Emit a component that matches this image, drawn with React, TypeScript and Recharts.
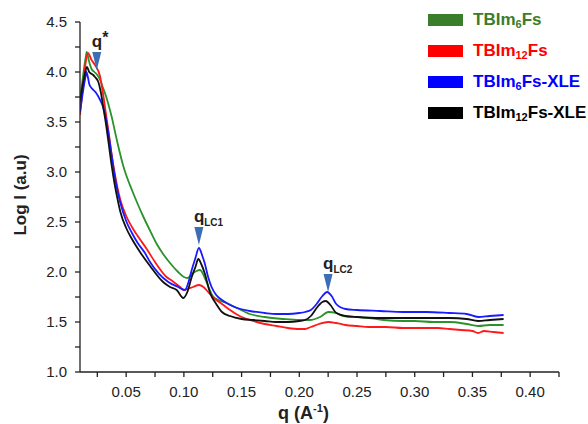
import React from "react";
import { LineChart, Line, XAxis, YAxis, ReferenceDot } from "recharts";

// TBIm6Fs (green)
const Q_GREEN = [0.01, 0.0125, 0.015, 0.0158, 0.018, 0.02, 0.0225, 0.025, 0.0275, 0.03, 0.0325, 0.035, 0.0375, 0.04, 0.0425, 0.045, 0.0475, 0.05, 0.055, 0.06, 0.065, 0.07, 0.0765, 0.082, 0.088, 0.095, 0.1, 0.103, 0.107, 0.111, 0.114, 0.117, 0.12, 0.125, 0.13, 0.137, 0.146, 0.157, 0.17, 0.186, 0.2, 0.209, 0.218, 0.225, 0.232, 0.238, 0.25, 0.26, 0.273, 0.29, 0.3, 0.316, 0.33, 0.345, 0.355, 0.365, 0.377];
const V_GREEN = [3.72, 3.95, 4.15, 4.2, 4.1, 4.03, 4.0, 3.97, 3.92, 3.84, 3.76, 3.66, 3.55, 3.42, 3.29, 3.17, 3.06, 2.97, 2.82, 2.68, 2.55, 2.43, 2.28, 2.18, 2.09, 2.0, 1.95, 1.94, 1.98, 2.01, 2.02, 1.97, 1.89, 1.76, 1.72, 1.69, 1.64, 1.58, 1.55, 1.53, 1.52, 1.52, 1.55, 1.6, 1.59, 1.56, 1.55, 1.54, 1.52, 1.51, 1.51, 1.5, 1.5, 1.48, 1.46, 1.47, 1.47];

// TBIm12Fs (red)
const Q_RED = [0.01, 0.0125, 0.015, 0.0169, 0.02, 0.023, 0.0273, 0.03, 0.0325, 0.035, 0.0375, 0.04, 0.0425, 0.045, 0.05, 0.055, 0.06, 0.0678, 0.075, 0.085, 0.09, 0.0967, 0.0995, 0.103, 0.108, 0.113, 0.117, 0.121, 0.125, 0.128, 0.133, 0.14, 0.15, 0.16, 0.17, 0.18, 0.19, 0.2, 0.205, 0.21, 0.217, 0.225, 0.232, 0.24, 0.25, 0.26, 0.275, 0.29, 0.3, 0.32, 0.33, 0.34, 0.35, 0.355, 0.36, 0.368, 0.377];
const V_RED = [3.57, 3.85, 4.1, 4.19, 4.12, 4.07, 3.96, 3.78, 3.58, 3.38, 3.17, 2.99, 2.84, 2.72, 2.56, 2.45, 2.36, 2.23, 2.1, 1.95, 1.91, 1.85, 1.82, 1.83, 1.85, 1.87, 1.85, 1.8, 1.75, 1.72, 1.68, 1.62, 1.55, 1.51, 1.48, 1.46, 1.44, 1.43, 1.43, 1.45, 1.48, 1.5, 1.49, 1.47, 1.46, 1.45, 1.45, 1.44, 1.44, 1.44, 1.43, 1.42, 1.41, 1.39, 1.41, 1.4, 1.39];

// TBIm6Fs-XLE (blue)
const Q_BLUE = [0.01, 0.0125, 0.015, 0.0155, 0.017, 0.018, 0.02, 0.0225, 0.024, 0.027, 0.03, 0.0325, 0.035, 0.0375, 0.04, 0.0425, 0.045, 0.05, 0.055, 0.06, 0.0663, 0.0707, 0.0865, 0.095, 0.101, 0.104, 0.1068, 0.11, 0.113, 0.116, 0.118, 0.121, 0.124, 0.128, 0.133, 0.14, 0.146, 0.157, 0.17, 0.18, 0.19, 0.2, 0.205, 0.21, 0.215, 0.22, 0.224, 0.228, 0.232, 0.24, 0.25, 0.27, 0.29, 0.31, 0.33, 0.345, 0.355, 0.365, 0.377];
const V_BLUE = [3.6, 3.8, 3.97, 4.0, 3.94, 3.88, 3.84, 3.81, 3.79, 3.73, 3.65, 3.53, 3.36, 3.16, 2.97, 2.81, 2.69, 2.51, 2.39, 2.29, 2.19, 2.1, 1.9, 1.85, 1.82, 1.9, 2.02, 2.14, 2.24, 2.16, 2.09, 1.95, 1.85, 1.77, 1.72, 1.67, 1.64, 1.61, 1.59, 1.58, 1.58, 1.59, 1.6, 1.62, 1.68, 1.76, 1.8, 1.76, 1.68, 1.63, 1.62, 1.61, 1.6, 1.6, 1.59, 1.58, 1.55, 1.56, 1.57];

// TBIm12Fs-XLE (black)
const Q_BLACK = [0.01, 0.0125, 0.015, 0.016, 0.018, 0.0215, 0.023, 0.0259, 0.028, 0.03, 0.0325, 0.035, 0.0375, 0.04, 0.0425, 0.045, 0.05, 0.055, 0.062, 0.0707, 0.082, 0.088, 0.0938, 0.0995, 0.103, 0.1068, 0.11, 0.1125, 0.115, 0.118, 0.1227, 0.128, 0.133, 0.14, 0.15, 0.16, 0.17, 0.18, 0.19, 0.2, 0.205, 0.21, 0.215, 0.22, 0.223, 0.227, 0.232, 0.24, 0.25, 0.27, 0.29, 0.31, 0.33, 0.345, 0.355, 0.365, 0.377];
const V_BLACK = [3.7, 3.88, 4.02, 4.05, 4.0, 3.97, 3.95, 3.9, 3.8, 3.66, 3.48, 3.27, 3.06, 2.88, 2.73, 2.6, 2.44, 2.33, 2.2, 2.06, 1.9, 1.85, 1.82, 1.74, 1.8, 1.95, 2.05, 2.13, 2.08, 1.99, 1.79, 1.68, 1.6, 1.56, 1.53, 1.52, 1.51, 1.5, 1.5, 1.51, 1.52, 1.56, 1.64, 1.7, 1.71, 1.67, 1.59, 1.56, 1.55, 1.54, 1.54, 1.54, 1.54, 1.53, 1.51, 1.52, 1.53];

const X_TICKS = [0.025, 0.05, 0.075, 0.1, 0.125, 0.15, 0.175, 0.2, 0.225, 0.25, 0.275, 0.3, 0.325, 0.35, 0.375, 0.4, 0.425];
const Y_TICKS = [1, 1.25, 1.5, 1.75, 2, 2.25, 2.5, 2.75, 3, 3.25, 3.5, 3.75, 4, 4.25, 4.5];

// peak markers
const MARK_Q = [0.0245, 0.113, 0.2249];
const MARK_V = [4.02, 2.27, 1.8];
const MARK_SUB = ["*", "LC1", "LC2"];

const SERIES = [
  { name: "TBIm", sub: "6", tail: "Fs", q: Q_GREEN, v: V_GREEN, color: "#2a922a", text: "#3a7d2a" },
  { name: "TBIm", sub: "12", tail: "Fs", q: Q_RED, v: V_RED, color: "#ff1a1a", text: "#ff0000" },
  { name: "TBIm", sub: "6", tail: "Fs-XLE", q: Q_BLUE, v: V_BLUE, color: "#1a1aff", text: "#0000ff" },
  { name: "TBIm", sub: "12", tail: "Fs-XLE", q: Q_BLACK, v: V_BLACK, color: "#111111", text: "#000000" },
];

const FONT = "'Liberation Sans', Arial, sans-serif";
const AXIS = "#222";

const isMajor = (v: number, step: number) => Math.abs(v / step - Math.round(v / step)) < 1e-6;

function XTick(props: any) {
  const { x, y, payload } = props;
  if (!isMajor(payload.value, 0.05)) return <g />;
  return (
    <text x={x} y={y} dy="0.71em" textAnchor="middle" fontSize={15} fill="#222" fontFamily={FONT}>
      {payload.value.toFixed(2)}
    </text>
  );
}

function YTick(props: any) {
  const { x, y, payload } = props;
  if (!isMajor(payload.value, 0.5)) return <g />;
  return (
    <text x={x} y={y} dy="0.355em" textAnchor="end" fontSize={15} fill="#222" fontFamily={FONT}>
      {payload.value.toFixed(1)}
    </text>
  );
}

function marker(sub: string) {
  return (props: any) => {
    const { cx, cy } = props;
    const star = sub === "*";
    return (
      <g>
        <polygon points={`${cx - 4.5},${cy - 18} ${cx + 4.5},${cy - 18} ${cx},${cy}`} fill="#3d6db5" />
        <text x={cx - 5} y={cy - 23} fontSize={17} fontWeight="bold" fill="#222" fontFamily={FONT}>
          q
          {star ? (
            <tspan dy={-4} fontSize={16}>*</tspan>
          ) : (
            <tspan dy={4} fontSize={10}>{sub}</tspan>
          )}
        </text>
      </g>
    );
  };
}

export default function App() {
  return (
    <div style={{ position: "absolute", left: 0, top: 0, width: 588, height: 424, background: "#fff", fontFamily: FONT }}>
      <LineChart width={588} height={424} margin={{ top: 22, right: 29, left: 20, bottom: 22 }}>
        <XAxis
          type="number"
          dataKey="q"
          domain={[0.01, 0.425]}
          ticks={X_TICKS}
          interval={0}
          allowDataOverflow
          tick={<XTick />}
          tickSize={5}
          tickMargin={9}
          height={30}
          stroke={AXIS}
          strokeWidth={1.3}
          label={{
            content: (p: any) => {
              const vb = p.viewBox;
              return (
                <text x={vb.x + vb.width / 2 - 16} y={419} textAnchor="middle" fontSize={18} fontWeight="bold" fill="#222" fontFamily={FONT}>
                  q (A<tspan dy={-7} fontSize={11}>-1</tspan>
                  <tspan dy={7}>)</tspan>
                </text>
              );
            },
          }}
        />
        <YAxis
          type="number"
          dataKey="v"
          domain={[1, 4.5]}
          ticks={Y_TICKS}
          interval={0}
          allowDataOverflow
          tick={<YTick />}
          tickSize={5}
          tickMargin={8}
          width={60}
          stroke={AXIS}
          strokeWidth={1.3}
          label={{
            content: () => (
              <text x={26} y={195} transform="rotate(-90 26 195)" textAnchor="middle" fontSize={17} fontWeight="bold" fill="#222" fontFamily={FONT}>
                Log I (a.u)
              </text>
            ),
          }}
        />
        {SERIES.map((s, i) => (
          <Line
            key={i}
            data={s.q.map((q, j) => ({ q, v: s.v[j] }))}
            dataKey="v"
            type="monotone"
            stroke={s.color}
            strokeWidth={1.8}
            dot={false}
            isAnimationActive={false}
          />
        ))}
        {MARK_Q.map((q, i) => (
          <ReferenceDot key={i} x={q} y={MARK_V[i]} r={1} ifOverflow="visible" shape={marker(MARK_SUB[i])} />
        ))}
      </LineChart>
      <div style={{ position: "absolute", left: 428, top: 4 }}>
        {SERIES.map((s, i) => (
          <div key={i} style={{ display: "flex", alignItems: "center", height: 31 }}>
            <div style={{ width: 35, height: 12, background: s.text, marginRight: 10 }} />
            <span style={{ color: s.text, fontWeight: "bold", fontSize: 17, whiteSpace: "nowrap" }}>
              {s.name}
              <sub style={{ fontSize: 11, verticalAlign: "-3px" }}>{s.sub}</sub>
              {s.tail}
            </span>
          </div>
        ))}
      </div>
    </div>
  );
}
